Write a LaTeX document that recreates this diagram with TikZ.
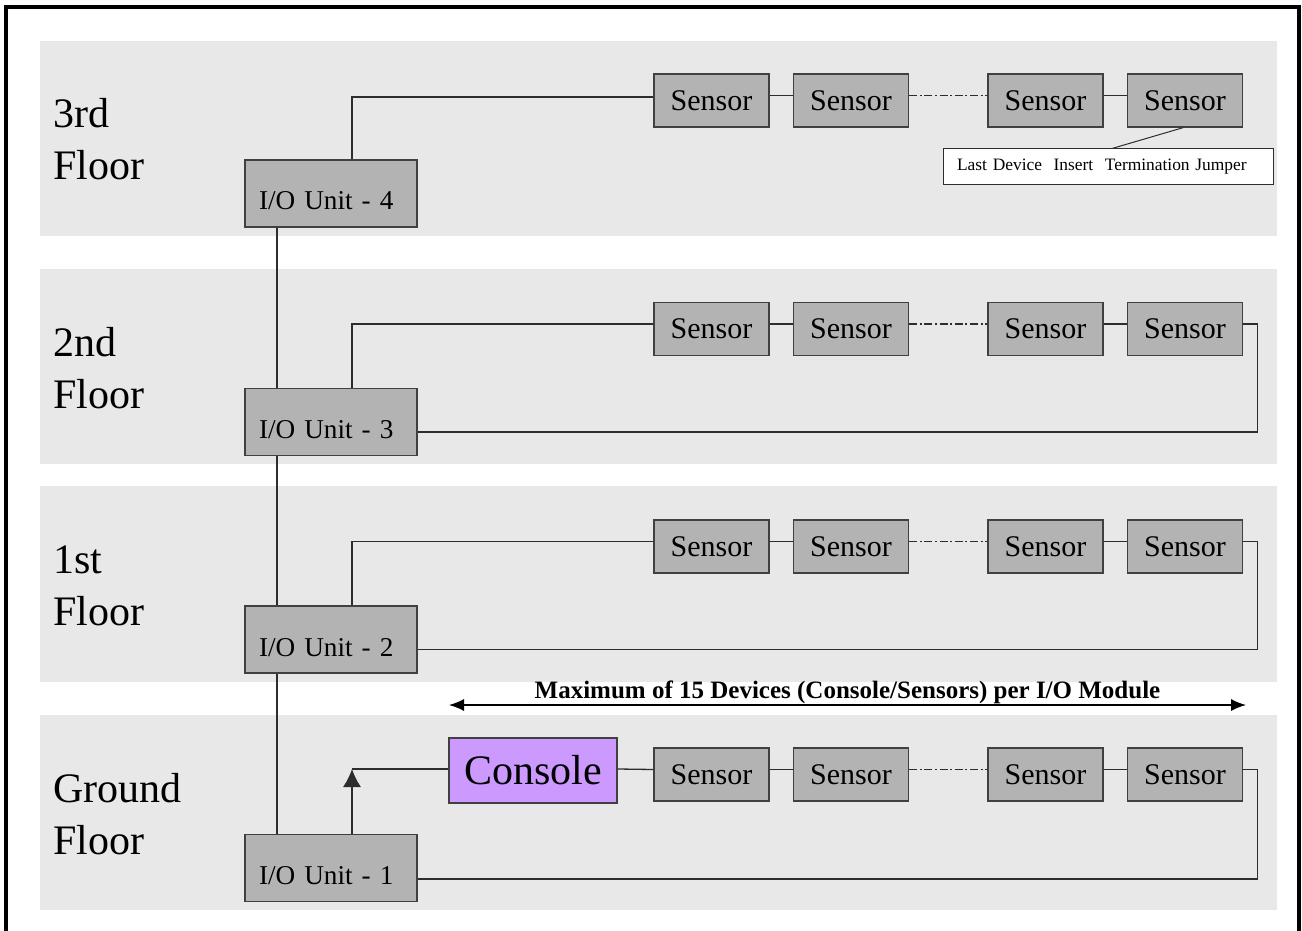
\documentclass[tikz,border=0pt]{standalone}
\usepackage{fontspec}
\setmainfont{Liberation Serif}
\usepackage{tikz}
\usetikzlibrary{arrows.meta}
\usetikzlibrary{positioning,calc}
\definecolor{bandgray}{RGB}{232,232,232}
\definecolor{boxgray}{RGB}{179,179,179}
\definecolor{boxline}{RGB}{64,64,64}
\definecolor{wiregray}{RGB}{45,45,45}
\definecolor{consolepurple}{RGB}{204,153,255}

\begin{document}
\begin{tikzpicture}[
x=0.5pt,y=-0.5pt,
Band/.style={fill=bandgray,draw=none},
Wire/.style={draw=wiregray,line width=0.65pt},
DashDot/.style={dash pattern=on 4pt off 1.3pt on 1pt off 1.3pt},
IOBox/.style={draw=boxline,fill=boxgray,line width=0.7pt,minimum width=86pt,minimum height=33.5pt,text width=72pt,inner xsep=7pt,align=left,text height=16.5pt,text depth=0pt,font=\fontsize{13.6}{16}\selectfont},
SensorBox/.style={draw=boxline,fill=boxgray,line width=0.7pt,minimum width=57.5pt,minimum height=26.5pt,inner sep=0pt,font=\fontsize{15}{17}\selectfont},
ConsoleBox/.style={draw=boxline,fill=consolepurple,line width=0.7pt,minimum width=84pt,minimum height=32.5pt,inner sep=0pt,font=\fontsize{21}{24}\selectfont},
NoteBox/.style={draw=wiregray,fill=white,line width=0.5pt,minimum width=165pt,minimum height=18pt,text width=151pt,inner xsep=7pt,align=left,font=\fontsize{8.7}{10}\selectfont},
FloorLabel/.style={align=left,anchor=west,inner sep=0pt,font=\fontsize{21}{26}\selectfont}
]
\useasboundingbox (0,0) rectangle (1302,931);

% outer frame, open at the bottom
\draw[black,line width=2pt] (6,935) -- (6,7) -- (1299,7) -- (1299,935);

% floor bands
\fill[Band] (40,41) rectangle (1277,236);
\fill[Band] (40,269) rectangle (1277,464);
\fill[Band] (40,486) rectangle (1277,682);
\fill[Band] (40,715) rectangle (1277,910);

\node[FloorLabel] (fl4) at (53,139) {3rd\\Floor};
\node[FloorLabel] (fl3) at (53,368) {2nd\\Floor};
\node[FloorLabel] (fl2) at (53,586) {1st\\Floor};
\node[FloorLabel] (fl1) at (53,814) {Ground\\Floor};

% I/O units
\node[IOBox] (u4) at (331,193.5) {I/O Unit - 4};
\node[IOBox] (u3) at (331,422) {I/O Unit - 3};
\node[IOBox] (u2) at (331,639.5) {I/O Unit - 2};
\node[IOBox] (u1) at (331,868) {I/O Unit - 1};

% sensors
\node[SensorBox] (s41) at (711.5,100.5) {Sensor};
\node[SensorBox] (s42) at (851,100.5) {Sensor};
\node[SensorBox] (s43) at (1045.5,100.5) {Sensor};
\node[SensorBox] (s44) at (1185,100.5) {Sensor};

\node[SensorBox] (s31) at (711.5,329) {Sensor};
\node[SensorBox] (s32) at (851,329) {Sensor};
\node[SensorBox] (s33) at (1045.5,329) {Sensor};
\node[SensorBox] (s34) at (1185,329) {Sensor};

\node[SensorBox] (s21) at (711.5,546.5) {Sensor};
\node[SensorBox] (s22) at (851,546.5) {Sensor};
\node[SensorBox] (s23) at (1045.5,546.5) {Sensor};
\node[SensorBox] (s24) at (1185,546.5) {Sensor};

\node[SensorBox] (s11) at (711.5,774.5) {Sensor};
\node[SensorBox] (s12) at (851,774.5) {Sensor};
\node[SensorBox] (s13) at (1045.5,774.5) {Sensor};
\node[SensorBox] (s14) at (1185,774.5) {Sensor};

\node[ConsoleBox] (con) at (533,770.5) {Console};

\node[NoteBox] (note) at (1108,167) {Last Device\ \ Insert\ \ Termination Jumper};

% backbone between the units
\draw[Wire] ([xshift=-27pt]u4.south) -- ([xshift=-27pt]u3.north);
\draw[Wire] ([xshift=-27pt]u3.south) -- ([xshift=-27pt]u2.north);
\draw[Wire] ([xshift=-27pt]u2.south) -- ([xshift=-27pt]u1.north);

% 3rd floor
\draw[Wire] ([xshift=10.5pt]u4.north) |- ([yshift=1.75pt]s41.west);
\draw[Wire] ([yshift=2.5pt]s41.east) -- ([yshift=2.5pt]s42.west);
\draw[Wire,DashDot] ([yshift=2.5pt]s42.east) -- ([yshift=2.5pt]s43.west);
\draw[Wire] ([yshift=2.5pt]s43.east) -- ([yshift=2.5pt]s44.west);
\draw[Wire,line width=0.5pt] ([xshift=2pt]note.north) -- ([xshift=-1pt]s44.south);

% 2nd floor
\draw[Wire] ([xshift=10.5pt]u3.north) |- ([yshift=2.5pt]s31.west);
\draw[Wire] ([yshift=2.5pt]s31.east) -- ([yshift=2.5pt]s32.west);
\draw[Wire,DashDot] ([yshift=2.5pt]s32.east) -- ([yshift=2.5pt]s33.west);
\draw[Wire] ([yshift=2.5pt]s33.east) -- ([yshift=2.5pt]s34.west);
\draw[Wire] ([yshift=2.5pt]s34.east) -- ++(7pt,0) |- ([yshift=-5pt]u3.east);

% 1st floor
\draw[Wire] ([xshift=10.5pt]u2.north) |- ([yshift=2.5pt]s21.west);
\draw[Wire] ([yshift=2.5pt]s21.east) -- ([yshift=2.5pt]s22.west);
\draw[Wire,DashDot] ([yshift=2.5pt]s22.east) -- ([yshift=2.5pt]s23.west);
\draw[Wire] ([yshift=2.5pt]s23.east) -- ([yshift=2.5pt]s24.west);
\draw[Wire] ([yshift=2.5pt]s24.east) -- ++(7pt,0) |- ([yshift=-5pt]u2.east);

% ground floor
\coordinate (tee) at (352,769);
\draw[Wire,-{Latex[length=9pt, width=9pt]}] ([xshift=10.5pt]u1.north) -- (tee);
\draw[Wire] (tee) -- (con.west |- tee);
\draw[Wire] (con.east |- tee) -- ([yshift=2.5pt]s11.west);
\draw[Wire] ([yshift=2.5pt]s11.east) -- ([yshift=2.5pt]s12.west);
\draw[Wire,DashDot] ([yshift=2.5pt]s12.east) -- ([yshift=2.5pt]s13.west);
\draw[Wire] ([yshift=2.5pt]s13.east) -- ([yshift=2.5pt]s14.west);
\draw[Wire] ([yshift=2.5pt]s14.east) -- ++(7pt,0) |- ([yshift=-5.5pt]u1.east);

% span of one I/O module
\coordinate (maxL) at (449,705);
\coordinate (maxR) at (1246,705);
\draw[black,line width=0.65pt,{Latex[length=7.5pt, width=6pt]}-{Latex[length=7.5pt, width=6pt]}] (maxL) -- (maxR)
  node[midway,above=-3pt,font=\fontsize{12.5}{14}\selectfont\bfseries] (maxtext) {Maximum of 15 Devices (Console/Sensors) per I/O Module};

\end{tikzpicture}
\end{document}
